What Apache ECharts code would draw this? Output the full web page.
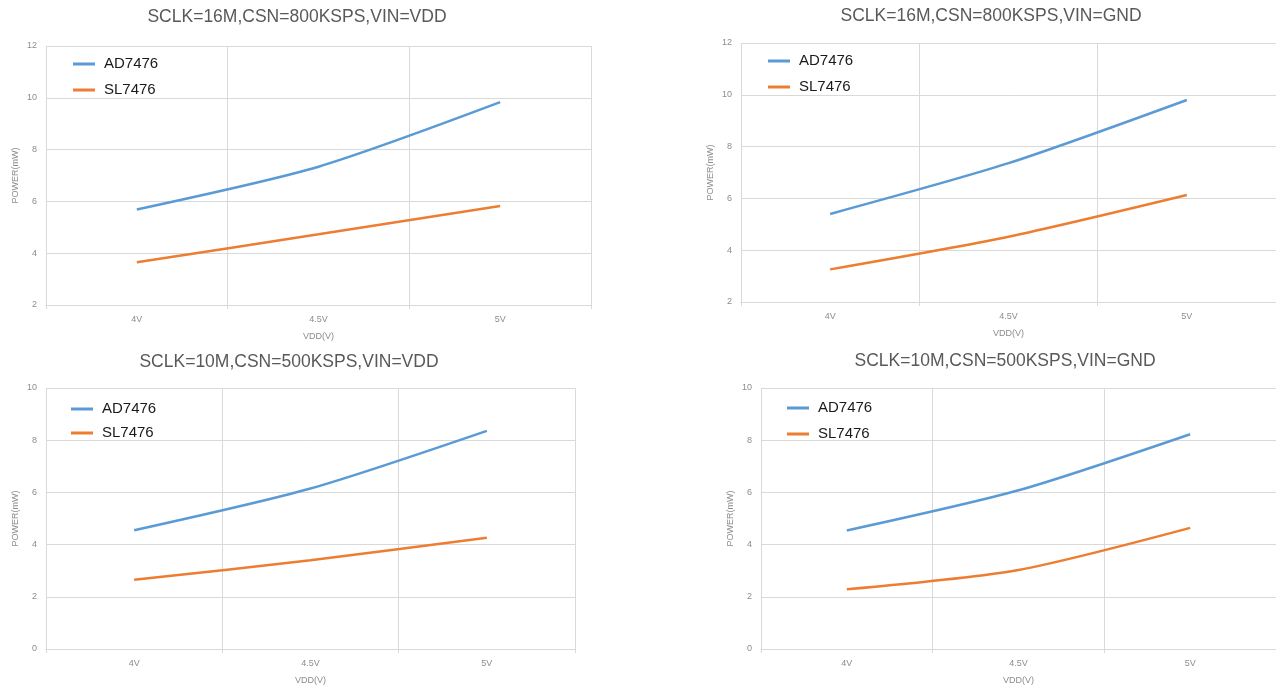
<!DOCTYPE html>
<html>
<head>
<meta charset="utf-8">
<script src="https://cdn.jsdelivr.net/npm/echarts@6/dist/echarts.min.js"></script>
<style>html,body{margin:0;padding:0;background:#fff}#c{width:1276px;height:686px}</style>
</head>
<body>
<div id="c"></div>
<script>
const categories = ['4V', '4.5V', '5V'];
const titles = [
  'SCLK=16M,CSN=800KSPS,VIN=VDD',
  'SCLK=16M,CSN=800KSPS,VIN=GND',
  'SCLK=10M,CSN=500KSPS,VIN=VDD',
  'SCLK=10M,CSN=500KSPS,VIN=GND'
];
const seriesNames = ['AD7476', 'SL7476'];
const ad1 = [5.69, 7.34, 9.83];
const sl1 = [3.65, 4.73, 5.82];
const ad2 = [5.40, 7.36, 9.80];
const sl2 = [3.26, 4.52, 6.13];
const ad3 = [4.55, 6.15, 8.36];
const sl3 = [2.65, 3.40, 4.26];
const ad4 = [4.54, 6.08, 8.23];
const sl4 = [2.29, 3.03, 4.64];
const yMins = [2, 2, 0, 0];
const yMaxs = [12, 12, 10, 10];
const yAxisName = 'POWER(mW)';
const xAxisName = 'VDD(V)';

const adData = [ad1, ad2, ad3, ad4];
const slData = [sl1, sl2, sl3, sl4];
const colors = ['#5B9BD5', '#ED7D31'];

const grids = [
  {left: 46, top: 46, width: 545, height: 259},
  {left: 741, top: 43, width: 543, height: 259},
  {left: 46, top: 388, width: 529, height: 262},
  {left: 761, top: 388, width: 528, height: 262}
];
const titlePos = [[297, 8], [991, 7], [289, 353], [1005, 352]];
const legendPos = [[73, 56, 10], [768, 53, 10], [71, 401, 8], [787, 400, 10]];

const font = 'Liberation Sans, Arial, sans-serif';
const gridColor = '#d9d9d9';
const labelColor = '#8c8c8c';

const option = {
  backgroundColor: '#fff',
  animation: false,
  title: titles.map((t, i) => ({
    text: t, left: titlePos[i][0], top: titlePos[i][1], textAlign: 'center', padding: 0,
    textStyle: {fontFamily: font, fontSize: 17.5, fontWeight: 'normal', color: '#595959'}
  })),
  legend: legendPos.map((p) => ({
    data: seriesNames, orient: 'vertical', left: p[0], top: p[1], itemGap: p[2], padding: 0,
    icon: 'rect', itemWidth: 22, itemHeight: 3,
    textStyle: {fontFamily: font, fontSize: 15, color: '#1a1a1a', lineHeight: 16, padding: [0, 0, 0, 4]}
  })),
  grid: grids,
  xAxis: grids.map((g, i) => ({
    type: 'category', gridIndex: i, data: categories, boundaryGap: true,
    name: xAxisName, nameLocation: 'middle', nameGap: 27,
    nameTextStyle: {fontFamily: font, fontSize: 9, color: labelColor},
    axisLine: {lineStyle: {color: gridColor}},
    axisTick: {show: true, length: 4, lineStyle: {color: gridColor}},
    axisLabel: {fontFamily: font, fontSize: 9, color: labelColor, margin: 10},
    splitLine: {show: true, lineStyle: {color: gridColor, width: 1}}
  })),
  yAxis: grids.map((g, i) => ({
    type: 'value', gridIndex: i, min: yMins[i], max: yMaxs[i], interval: 2,
    name: yAxisName, nameLocation: 'middle', nameGap: 26, nameRotate: 90,
    nameTextStyle: {fontFamily: font, fontSize: 9, color: labelColor},
    axisLine: {show: false}, axisTick: {show: false},
    axisLabel: {fontFamily: font, fontSize: 9, color: labelColor, margin: 9},
    splitLine: {show: true, lineStyle: {color: gridColor, width: 1}}
  })),
  series: []
};
for (let i = 0; i < 4; i++) {
  [adData[i], slData[i]].forEach((d, k) => {
    option.series.push({
      type: 'line', name: seriesNames[k], xAxisIndex: i, yAxisIndex: i, data: d,
      smooth: 0.25, symbol: 'none', color: colors[k],
      lineStyle: {width: 2.5, color: colors[k]}
    });
  });
}
const chart = echarts.init(document.getElementById('c'));
chart.setOption(option);
</script>
</body>
</html>
